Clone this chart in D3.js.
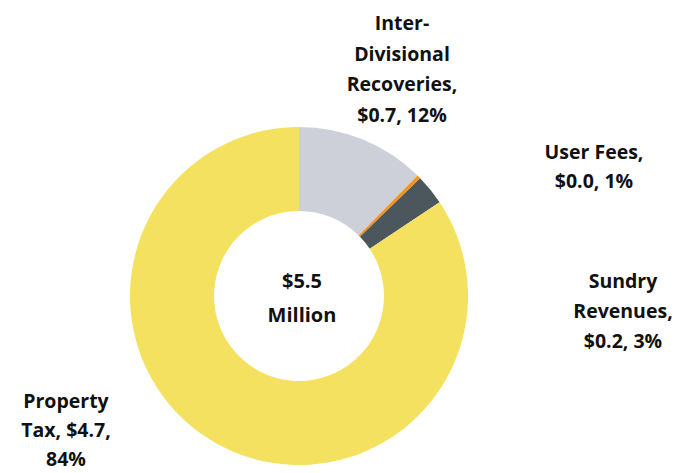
<!DOCTYPE html>
<html>
<head>
<meta charset="utf-8">
<script src="https://cdn.jsdelivr.net/npm/d3@7"></script>
<style>
  body { margin: 0; background: #fff; }
  text { font-family: "Open Sans", Lato, sans-serif; font-weight: bold; fill: #111; }
</style>
</head>
<body>
<svg id="chart" width="693" height="473"></svg>
<script>
// slices, clockwise from 12 o'clock
const categories = ["Inter-Divisional Recoveries", "User Fees", "Sundry Revenues", "Property Tax"];
const values = [0.68, 0.02, 0.16, 4.64];           // $ millions
const pctLabels = ["12%", "1%", "3%", "84%"];
const amtLabels = ["$0.7", "$0.0", "$0.2", "$4.7"];
const colors = ["#cdd0d9", "#f7941d", "#4b565d", "#f4e160"];

// label lines as drawn around the ring
const labelLines = [
  ["Inter-", "Divisional", "Recoveries,", amtLabels[0] + ", " + pctLabels[0]],
  ["User Fees,", amtLabels[1] + ", " + pctLabels[1]],
  ["Sundry", "Revenues,", amtLabels[2] + ", " + pctLabels[2]],
  ["Property", "Tax, " + amtLabels[3] + ",", pctLabels[3]]
];
const labelPos = [[402, 30, 30.5], [594, 159, 29], [623, 288, 30], [66, 408, 29]];

const svg = d3.select("#chart");
const cx = 299, cy = 296, outerR = 169, innerR = 85;

const pie = d3.pie().sort(null).value(d => d);
const arc = d3.arc().innerRadius(innerR).outerRadius(outerR);

const g = svg.append("g").attr("transform", `translate(${cx},${cy})`);
g.selectAll("path")
  .data(pie(values))
  .join("path")
  .attr("d", arc)
  .attr("fill", (d, i) => colors[i]);

// center total
const total = d3.sum(values);
const center = svg.append("text")
  .attr("text-anchor", "middle")
  .style("font-size", "20px");
center.append("tspan").attr("x", cx + 3).attr("y", 288).text("$" + total.toFixed(1));
center.append("tspan").attr("x", cx + 3).attr("y", 322).text("Million");

// slice labels
labelLines.forEach((lines, i) => {
  const [x, y, step] = labelPos[i];
  const t = svg.append("text")
    .attr("text-anchor", "middle")
    .style("font-size", "19.5px");
  lines.forEach((s, j) => {
    t.append("tspan")
      .attr("x", x)
      .attr("y", y + j * step)
      .text(s);
  });
});
</script>
</body>
</html>
